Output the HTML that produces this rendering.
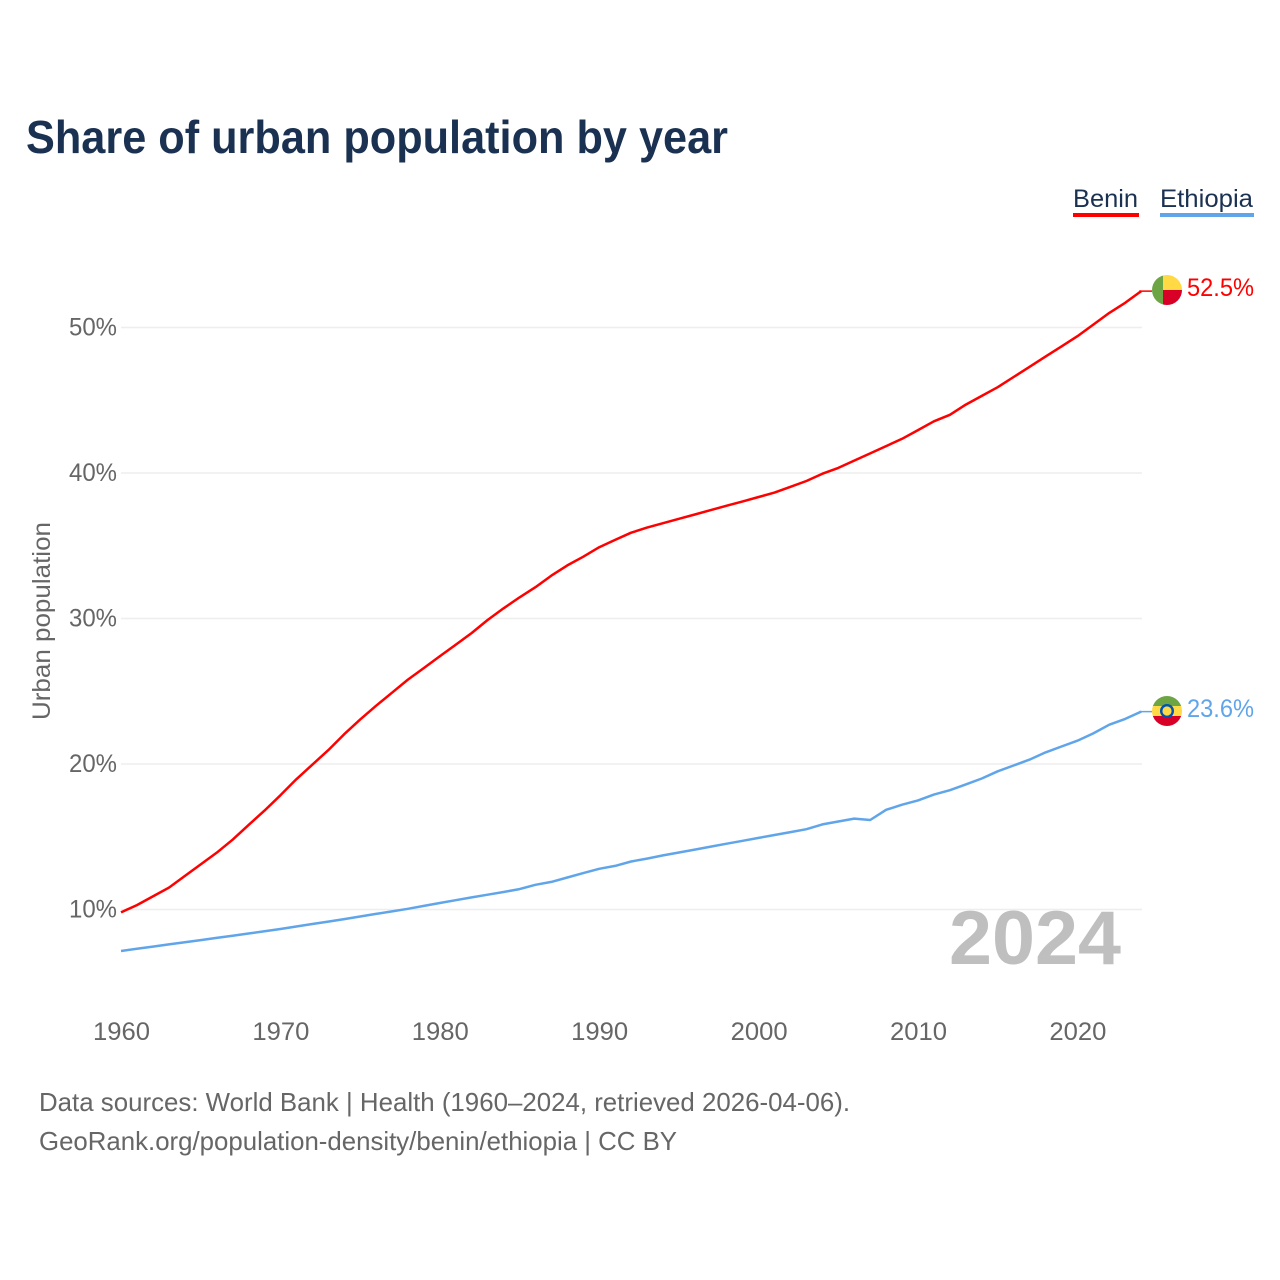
<!DOCTYPE html>
<html lang="en">
<head>
<meta charset="utf-8">
<title>Share of urban population by year</title>
<style>
html,body{margin:0;padding:0;background:#fff;width:1280px;height:1280px;overflow:hidden}
svg{display:block}
text{font-family:"Liberation Sans",sans-serif}
</style>
</head>
<body>
<svg id="chart" xmlns="http://www.w3.org/2000/svg" width="1280" height="1280" viewBox="0 0 1280 1280">
  <rect width="1280" height="1280" fill="#fff"/>
  <text x="26" y="153" font-size="46" font-weight="700" fill="#1a3152" textLength="702" lengthAdjust="spacingAndGlyphs">Share of urban population by year</text>

  <g>
    <g>
      <text x="1073" y="207" font-size="25" fill="#1a3152" textLength="65" lengthAdjust="spacingAndGlyphs">Benin</text>
      <rect x="1073" y="213" width="66" height="4" fill="#ff0000"/>
    </g>
    <g>
      <text x="1160" y="207" font-size="25" fill="#1a3152" textLength="93" lengthAdjust="spacingAndGlyphs">Ethiopia</text>
      <rect x="1160" y="213" width="94" height="4" fill="#60a5ea"/>
    </g>
  </g>

  <g id="grid"></g>
  <g id="yticks"></g>
  <g id="xticks"></g>
  <text transform="translate(50,621) rotate(-90)" text-anchor="middle" font-size="25" fill="#666" textLength="198" lengthAdjust="spacingAndGlyphs">Urban population</text>
  <text id="yearLabel" x="1121" y="964" text-anchor="end" font-size="76" font-weight="700" fill="#bfbfbf" textLength="172" lengthAdjust="spacingAndGlyphs"></text>
  <g id="series"></g>

  <defs>
    <clipPath id="flagClipA"><circle cx="1167" cy="290" r="15"/></clipPath>
    <clipPath id="flagClipB"><circle cx="1167" cy="711" r="15"/></clipPath>
  </defs>
  <g clip-path="url(#flagClipA)">
    <rect x="1152" y="275" width="11" height="30" fill="#6da544"/>
    <rect x="1163" y="275" width="19" height="15" fill="#ffda44"/>
    <rect x="1163" y="290" width="19" height="15" fill="#d80027"/>
  </g>
  <g clip-path="url(#flagClipB)">
    <rect x="1152" y="696" width="30" height="10" fill="#6da544"/>
    <rect x="1152" y="706" width="30" height="10" fill="#ffda44"/>
    <rect x="1152" y="716" width="30" height="10" fill="#d80027"/>
    <circle cx="1167" cy="711" r="7" fill="#0052b4"/>
    <circle cx="1167" cy="711" r="4.6" fill="#ffda44"/>
  </g>
  <text id="endA" x="1187" y="296" font-size="25" fill="#ff0000" textLength="67" lengthAdjust="spacingAndGlyphs"></text>
  <text id="endB" x="1187" y="717" font-size="25" fill="#60a5ea" textLength="67" lengthAdjust="spacingAndGlyphs"></text>

  <g>
    <text x="39" y="1111" font-size="26" fill="#666" textLength="811" lengthAdjust="spacingAndGlyphs">Data sources: World Bank | Health (1960–2024, retrieved 2026-04-06).</text>
    <text x="39" y="1150" font-size="26" fill="#666" textLength="638" lengthAdjust="spacingAndGlyphs">GeoRank.org/population-density/benin/ethiopia | CC BY</text>
  </g>
</svg>
<script>
const startYear = 1960;
const yTickValues = [10, 20, 30, 40, 50];
const xTickValues = [1960, 1970, 1980, 1990, 2000, 2010, 2020];
const beninValues = [9.8,10.3,10.9,11.5,12.3,13.1,13.9,14.8,15.8,16.8,17.85,18.95,19.95,20.95,22.05,23.05,24.0,24.9,25.8,26.6,27.4,28.2,29.0,29.9,30.7,31.45,32.15,32.95,33.65,34.25,34.9,35.4,35.9,36.25,36.55,36.85,37.15,37.45,37.75,38.05,38.35,38.65,39.05,39.45,39.95,40.35,40.85,41.35,41.85,42.35,42.95,43.55,44.0,44.7,45.3,45.9,46.6,47.3,48.0,48.7,49.4,50.2,51.0,51.7,52.5];
const ethiopiaValues = [7.15,7.3,7.45,7.6,7.75,7.9,8.05,8.2,8.35,8.5,8.66,8.83,9.0,9.17,9.34,9.52,9.7,9.87,10.05,10.25,10.45,10.64,10.83,11.02,11.2,11.4,11.7,11.9,12.2,12.5,12.8,13.0,13.3,13.5,13.72,13.92,14.12,14.32,14.52,14.72,14.92,15.12,15.32,15.52,15.85,16.05,16.25,16.15,16.85,17.2,17.5,17.9,18.2,18.6,19.0,19.5,19.9,20.3,20.8,21.2,21.6,22.1,22.7,23.1,23.6];

const NS = 'http://www.w3.org/2000/svg';
function xScale(year) { return 121 + (year - 1960) * 15.94; }
function yScale(v) { return 1055 - v * 14.55; }
function make(tag, attrs, parent, txt) {
  const el = document.createElementNS(NS, tag);
  for (const k in attrs) el.setAttribute(k, attrs[k]);
  if (txt !== undefined) el.textContent = txt;
  parent.appendChild(el);
  return el;
}
const grid = document.getElementById('grid');
const yticks = document.getElementById('yticks');
const xticks = document.getElementById('xticks');
yTickValues.forEach(function (v) {
  const line = make('line', {x1: 121, x2: 1142, y1: yScale(v), y2: yScale(v), stroke: '#eeeeee', 'stroke-width': 1.5}, grid);
  
  
  const label = make('text', {x: 117, y: yScale(v) + 8, 'text-anchor': 'end', 'font-size': 25, fill: '#666', textLength: 48, lengthAdjust: 'spacingAndGlyphs'}, yticks, v + '%');
  
  
});
xTickValues.forEach(function (y) {
  const label = make('text', {x: xScale(y) + 0.5, y: 1040, 'text-anchor': 'middle', 'font-size': 25, fill: '#666', textLength: 57, lengthAdjust: 'spacingAndGlyphs'}, xticks, String(y));
  
  
});
function linePoints(values) {
  return values.map(function (v, i) {
    return xScale(startYear + i).toFixed(1) + ',' + yScale(v).toFixed(1);
  }).join(' ');
}
const series = document.getElementById('series');
const beninLine = make('polyline', {points: linePoints(beninValues), fill: 'none', stroke: '#ff0000', 'stroke-width': 2.5, 'stroke-linejoin': 'round'}, series);


const ethiopiaLine = make('polyline', {points: linePoints(ethiopiaValues), fill: 'none', stroke: '#60a5ea', 'stroke-width': 2.5, 'stroke-linejoin': 'round'}, series);


const lastBenin = beninValues[beninValues.length - 1];
const lastEthiopia = ethiopiaValues[ethiopiaValues.length - 1];
const lastX = xScale(startYear + beninValues.length - 1);
const beninLead = make('line', {x1: lastX - 2, x2: 1152, y1: yScale(lastBenin), y2: yScale(lastBenin), stroke: '#ff0000', 'stroke-width': 1.5}, series);


const ethiopiaLead = make('line', {x1: lastX - 2, x2: 1152, y1: yScale(lastEthiopia), y2: yScale(lastEthiopia), stroke: '#60a5ea', 'stroke-width': 1.5}, series);


document.getElementById('endA').textContent = lastBenin.toFixed(1) + '%';
document.getElementById('endB').textContent = lastEthiopia.toFixed(1) + '%';
document.getElementById('yearLabel').textContent = String(startYear + beninValues.length - 1);
</script>
</body>
</html>
